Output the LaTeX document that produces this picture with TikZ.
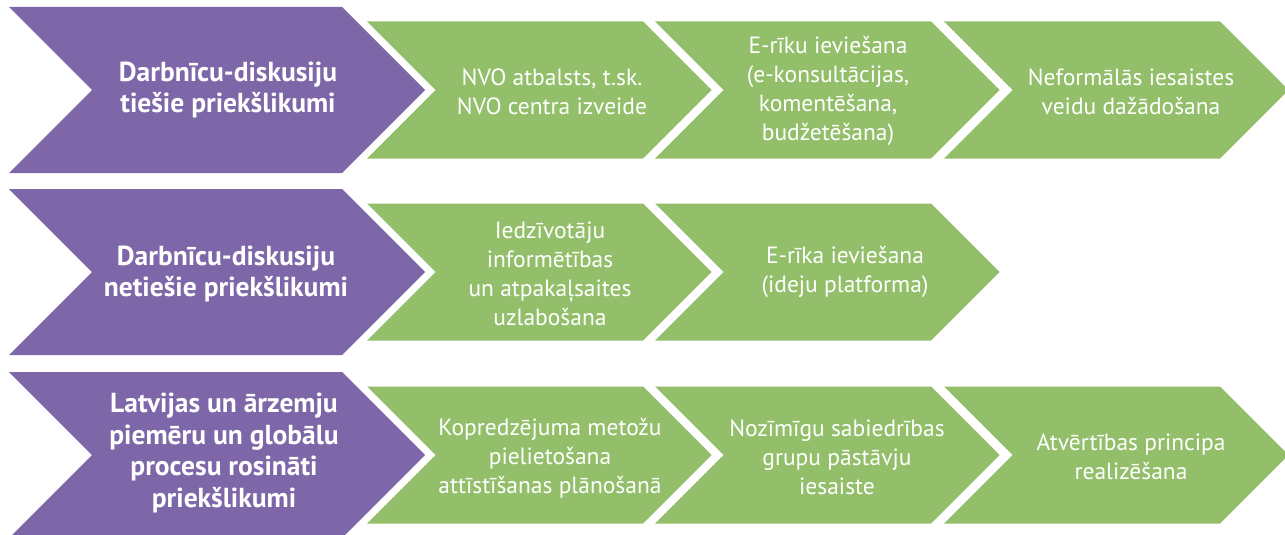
\documentclass[tikz,border=0pt]{standalone}
\usepackage{fontspec}
\setmainfont{PT Sans}
\definecolor{chevpurple}{HTML}{7D67A8}
\definecolor{chevgreen}{HTML}{93BF6A}
\newcommand\mychev[5]{% left, right, cy, halfheight, colour
  \fill[#5] (#1,#3-#4) -- (#2,#3-#4) -- (#2+#4,#3) -- (#2,#3+#4) -- (#1,#3+#4) -- (#1+#4,#3) -- cycle;}
\tikzset{
  ptext/.style={text=white, align=center, font=\fontsize{27.5}{31.5}\selectfont\bfseries, inner sep=0pt},
  gtext/.style={text=white, align=center, font=\fontsize{23.5}{29}\selectfont, inner sep=0pt}
}
\begin{document}
\begin{tikzpicture}[x=1pt,y=-1pt]
\useasboundingbox (0,0) rectangle (1285,535);
% row 1
\mychev{9}{342}{90}{83}{chevpurple}
\mychev{367}{643}{90}{68.5}{chevgreen}
\mychev{655}{931}{90}{68.5}{chevgreen}
\mychev{944}{1220}{90}{68.5}{chevgreen}
% row 2
\mychev{9}{342}{272}{83}{chevpurple}
\mychev{367}{643}{272}{68.5}{chevgreen}
\mychev{655}{931}{272}{68.5}{chevgreen}
% row 3
\mychev{9}{342}{455}{83}{chevpurple}
\mychev{367}{643}{455}{68.5}{chevgreen}
\mychev{655}{931}{455}{68.5}{chevgreen}
\mychev{944}{1220}{455}{68.5}{chevgreen}

\node[ptext] (p1) at (228,90) {Darbnīcu-diskusiju\\tiešie priekšlikumi};
\node[gtext] (a1) at (552,92) {NVO atbalsts, t.sk.\\NVO centra izveide};
\node[gtext] (a2) at (828,91) {E-rīku ieviešana\\(e-konsultācijas,\\komentēšana,\\budžetēšana)};
\node[gtext] (a3) at (1131,92) {Neformālās iesaistes\\veidu dažādošana};

\node[ptext] (p2) at (226,274) {Darbnīcu-diskusiju\\netiešie priekšlikumi};
\node[gtext] (b1) at (550,274) {Iedzīvotāju\\informētības\\un atpakaļsaites\\uzlabošana};
\node[gtext] (b2) at (845,272) {E-rīka ieviešana\\(ideju platforma)};

\node[ptext] (p3) at (224,453) {Latvijas un ārzemju\\piemēru un globālu\\procesu rosināti\\priekšlikumi};
\node[gtext] (c1) at (550,458) {Kopredzējuma metožu\\pielietošana\\attīstīšanas plānošanā};
\node[gtext] (c2) at (837,457) {Nozīmīgu sabiedrības\\grupu pāstāvju\\iesaiste};
\node[gtext] (c3) at (1131,457) {Atvērtības principa\\realizēšana};
\end{tikzpicture}
\end{document}
